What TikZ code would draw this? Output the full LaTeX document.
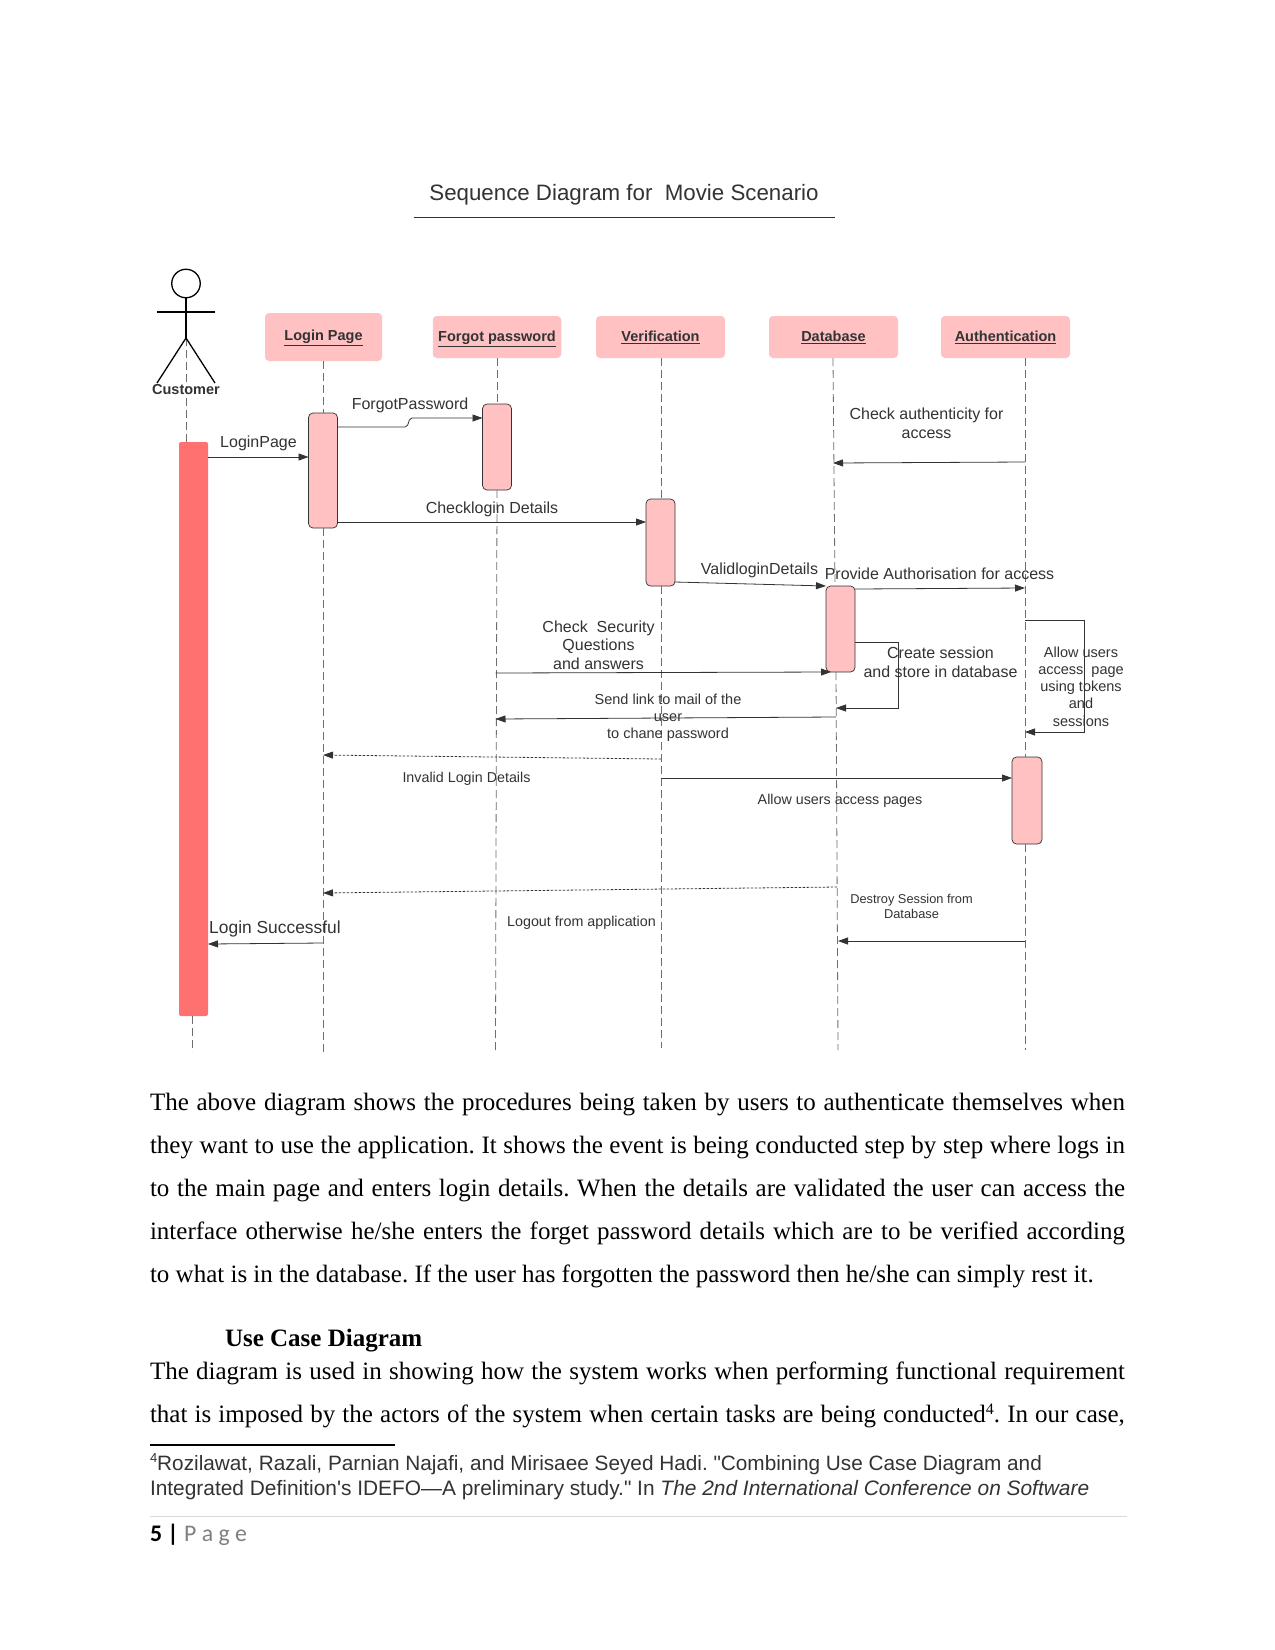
\documentclass[tikz,border=0pt]{standalone}
\usepackage{fontspec}
\usetikzlibrary{arrows.meta}
\newfontfamily\sansf{Liberation Sans}
\newfontfamily\serf{Liberation Serif}
\newfontfamily\carl{Carlito}
\definecolor{pinkbox}{HTML}{FFC1C1}
\definecolor{redbar}{HTML}{FF7070}
\definecolor{ink}{HTML}{333333}
\definecolor{lifegray}{HTML}{6E6E6E}
\tikzset{
  x=1pt,y=-1pt,
  every node/.style={inner sep=0pt,outer sep=0pt},
  hdr/.style={fill=pinkbox,rounded corners=4pt,minimum height=42pt,minimum width=129pt,text=ink,font=\sansf\bfseries\fontsize{14.5}{17}\selectfont},
  act/.style={fill=pinkbox,draw=ink,line width=.7pt,rounded corners=4.5pt,minimum width=29pt},
  life/.style={draw=lifegray,line width=.8pt,dash pattern=on 8pt off 4pt},
  msg/.style={draw=ink,line width=.8pt,-{Triangle[length=10pt,width=7pt]}},
  ret/.style={draw=ink,line width=.8pt,dash pattern=on 2.5pt off 1.5pt,-{Triangle[length=10pt,width=7pt,color=ink]}},
  lbl/.style={text=ink,align=center,font=\sansf\fontsize{16}{19}\selectfont},
  lblsm/.style={text=ink,align=center,font=\sansf\fontsize{14.3}{17.2}\selectfont},
  bodyline/.style={anchor=base west,font=\serf\fontsize{25}{30}\selectfont\frenchspacing,text=black},
  noteline/.style={anchor=base west,font=\sansf\fontsize{20.9}{25}\selectfont\frenchspacing,text=ink}
}
\newcommand{\jline}[1]{\makebox[975pt][s]{#1}}
\newcommand{\supfour}[2][13]{\raisebox{8pt}{\fontsize{#1}{15}\selectfont #2}}
\begin{document}
\begin{tikzpicture}
\useasboundingbox (0,0) rectangle (1275,1650);
\fill[white] (0,0) rectangle (1275,1650);

% title
\node[text=ink,font=\sansf\fontsize{22.3}{26}\selectfont] (title) at (624,195) {Sequence Diagram for\ \ Movie Scenario};
\coordinate (titleL) at (413.5,217.5);
\coordinate (titleR) at (835,217.5);
\draw[ink,line width=.9pt] (titleL) -- (titleR);

% header boxes
\node[hdr,minimum width=117pt,minimum height=48pt] (hLogin) at (323.5,337) {\rule{0pt}{12.5pt}\underline{Login Page}};
\node[hdr,minimum width=128.5pt] (hForgot) at (497,337) {\rule{0pt}{14pt}\underline{Forgot password}};
\node[hdr] (hVer) at (660.5,337) {\underline{Verification}};
\node[hdr] (hDb) at (833.5,337) {\underline{Database}};
\node[hdr] (hAuth) at (1005.5,337) {\underline{Authentication}};

% lifeline ends and bends
\coordinate (actHip) at (186,338);
\coordinate (custEnd) at (192,1052);
\coordinate (loginEnd) at (323,1052);
\coordinate (forgotEnd) at (495.5,1050);
\coordinate (verEnd) at (661,1048);
\coordinate (dbA) at (833,358);
\coordinate (dbB) at (835,586);
\coordinate (dbC) at (836,672);
\coordinate (dbEnd) at (838,1050);
\coordinate (authA) at (1025,358);
\coordinate (authB) at (1025,757);
\coordinate (authC) at (1025,844);
\coordinate (authEnd) at (1025,1050);
\coordinate (verTop) at (661,358);

% activations
\node[fill=redbar,rounded corners=2pt,minimum width=29pt,minimum height=574pt] (bar) at (193.5,729) {};
\node[act,minimum height=115pt] (a1) at (323,470.5) {};
\node[act,minimum height=86pt] (a2) at (497,447) {};
\node[act,minimum height=87pt] (a3) at (660.5,542.5) {};
\node[act,minimum height=86pt] (a4) at (840.5,629) {};
\node[act,minimum width=30pt,minimum height=87pt] (a5) at (1027,800.5) {};

% lifelines
\draw[life] (actHip) -- (actHip |- bar.north);
\draw[life] (bar.south -| custEnd) -- (custEnd);
\draw[life] (hLogin.south -| loginEnd) -- (a1.north -| loginEnd);
\draw[life] (a1.south -| loginEnd) -- (loginEnd);
\draw[life] (hForgot.south -| a2.north) -- (a2.north);
\draw[life] (a2.south) -- (forgotEnd);
\draw[life] (verTop) -- (a3.north -| verTop);
\draw[life] (a3.south -| verTop) -- (verEnd);
\draw[life] (dbA) -- (dbB);
\draw[life] (dbC) -- (dbEnd);
\draw[life] (authA) -- (authB);
\draw[life] (authC) -- (authEnd);

% actor
\node[draw=black,line width=1.3pt,circle,minimum size=28.5pt] (head) at (186,283.5) {};
\coordinate (armL) at (157,312);
\coordinate (armR) at (215,312);
\coordinate (footL) at (157,383);
\coordinate (footR) at (215,383);
\draw[black,line width=1.3pt] (head.south) -- (actHip);
\draw[black,line width=1.3pt] (armL) -- (armR);
\draw[black,line width=1.3pt] (footL) -- (actHip) -- (footR);
\node[text=ink,font=\sansf\bfseries\fontsize{14.5}{17}\selectfont] (cust) at (186,389.5) {Customer};

% messages
\draw[msg] (bar.east |- 0,457) -- (a1.west |- 0,457);
\coordinate (fpA) at (407,427);
\coordinate (fpB) at (410,418);
\draw[msg,rounded corners=2pt,draw=ink] (a1.east |- fpA) -- (fpA) -- (fpB) -- (a2.west |- fpB);
\draw[msg] (a1.east |- 0,522) -- (a3.west |- 0,522);
\draw[msg] (authA |- 0,462) -- (dbA |- 0,463);
\draw[msg] (a3.east |- 0,582) -- (a4.west |- 0,586);
\draw[msg] (a4.east |- 0,589) -- (authA |- 0,588);
\draw[msg] (forgotEnd |- 0,673) -- (831,672);
\draw[msg] (dbC |- 0,717) -- (forgotEnd |- 0,719);
\coordinate (csA) at (898,642);
\coordinate (csB) at (898,708);
\draw[msg] (a4.east |- csA) -- (csA) -- (csB) -- (dbC |- csB);
\coordinate (auU) at (1084,620);
\coordinate (auD) at (1084,732);
\draw[msg] (authA |- auU) -- (auU) -- (auD) -- (authA |- auD);
\draw[ret] (verEnd |- 0,759) -- (loginEnd |- 0,755);
\draw[msg] (verEnd |- 0,778) -- (a5.west |- 0,778);
\draw[ret] (837,887) -- (loginEnd |- 0,893);
\draw[msg] (authA |- 0,941) -- (dbEnd |- 0,941);
\draw[msg] (loginEnd |- 0,943) -- (bar.east |- 0,944);

% message labels
\node[lbl] (tLogin) at (258.5,443) {LoginPage};
\node[lbl] (tForgot) at (410,405.5) {ForgotPassword};
\node[lbl] (tCheck) at (492,509.5) {Checklogin Details};
\node[lbl] (tAuth) at (926.5,423.5) {Check authenticity for\\access};
\node[lbl] (tValid) at (759.5,570) {ValidloginDetails};
\node[lbl] (tProv) at (939.5,574) {Provide Authorisation for access};
\node[lbl,font=\sansf\fontsize{16}{18.5}\selectfont] (tSec) at (598.5,645) {Check\ \ Security\\Questions\\and answers};
\node[lblsm,font=\sansf\fontsize{14.5}{17.2}\selectfont] (tSend) at (668,717.5) {Send link to mail of the\\user\\to chane password};
\node[lbl] (tCreate) at (940.5,662.5) {Create session\\and store in database};
\node[lblsm,font=\sansf\fontsize{14.5}{17.2}\selectfont] (tAllow) at (1081,686.5) {Allow users\\access\ \ page\\using tokens\\and\\sessions};
\node[lblsm] (tInv) at (466.5,778.5) {Invalid Login Details};
\node[lblsm] (tAcc) at (840,800.5) {Allow users access pages};
\node[lblsm] (tOut) at (581.5,922.5) {Logout from application};
\node[text=ink,align=center,font=\sansf\fontsize{12.8}{15.5}\selectfont] (tDes) at (911.5,906.5) {Destroy Session from\\Database};
\node[text=ink,font=\sansf\fontsize{17.4}{21}\selectfont] (tSucc) at (275,929) {Login Successful};

% body text
\node[bodyline] (b1) at (150,1110) {\jline{The above diagram shows the procedures being taken by users to authenticate themselves when}};
\node[bodyline] (b2) at (150,1153) {\jline{they want to use the application. It shows the event is being conducted step by step where logs in}};
\node[bodyline] (b3) at (150,1196) {\jline{to the main page and enters login details. When the details are validated the user can access the}};
\node[bodyline] (b4) at (150,1239) {\jline{interface otherwise he/she enters the forget password details which are to be verified according}};
\node[bodyline] (b5) at (150,1282) {to what is in the database. If the user has forgotten the password then he/she can simply rest it.};
\node[bodyline,font=\serf\bfseries\fontsize{25}{30}\selectfont] (h2) at (225,1346) {Use Case Diagram};
\node[bodyline] (b6) at (150,1379) {\jline{The diagram is used in showing how the system works when performing functional requirement}};
\node[bodyline] (b7) at (150,1422) {\jline{that is imposed by the actors of the system when certain tasks are being conducted\supfour[16]{4}. In our case,}};

% footnote
\coordinate (fnL) at (150,1444.5);
\coordinate (fnR) at (395,1444.5);
\draw[black,line width=2pt] (fnL) -- (fnR);
\node[noteline,font=\sansf\fontsize{20.77}{25}\selectfont\frenchspacing] (f1) at (150,1470) {\supfour{4}Rozilawat, Razali, Parnian Najafi, and Mirisaee Seyed Hadi. "Combining Use Case Diagram and};
\node[noteline] (f2) at (150,1495) {Integrated Definition's IDEFO—A preliminary study." In \textit{The 2nd International Conference on Software}};

% footer
\coordinate (ftL) at (150,1516);
\coordinate (ftR) at (1126.5,1516);
\draw[black!15,line width=1pt] (ftL) -- (ftR);
\node[anchor=base west,font=\carl\fontsize{23.8}{27}\selectfont] (pg) at (150,1541) {\textbf{5 |}\ \textcolor{black!50}{P a g e}};
\end{tikzpicture}
\end{document}
